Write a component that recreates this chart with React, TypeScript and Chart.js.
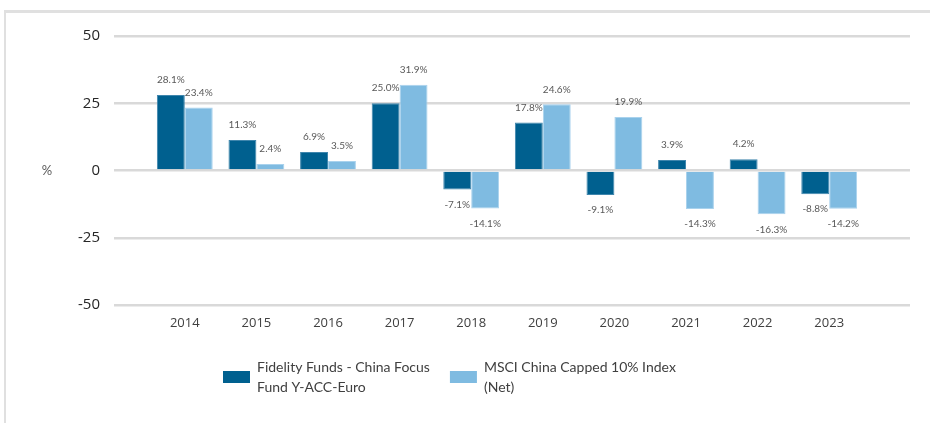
import React, { useEffect, useRef } from 'react';
import { Chart, registerables } from 'chart.js';

Chart.register(...registerables);

const categories = ['2014', '2015', '2016', '2017', '2018', '2019', '2020', '2021', '2022', '2023'];
const fundLegend = ['Fidelity Funds - China Focus', 'Fund Y-ACC-Euro'];
const indexLegend = ['MSCI China Capped 10% Index', '(Net)'];
const fundValues = [28.1, 11.3, 6.9, 25.0, -7.1, 17.8, -9.1, 3.9, 4.2, -8.8];
const indexValues = [23.4, 2.4, 3.5, 31.9, -14.1, 24.6, 19.9, -14.3, -16.3, -14.2];
const yTicks = [-50, -25, 0, 25, 50];
const yUnit = '%';

const fundColor = '#00608f';
const indexColor = '#7fbbe1';
const legendLines = [fundLegend, indexLegend];

const valueLabels = {
  id: 'valueLabels',
  afterDatasetsDraw(chart: any) {
    const ctx = chart.ctx;
    ctx.save();
    ctx.font = '10px Lato';
    ctx.fillStyle = '#595959';
    ctx.textAlign = 'center';
    ctx.textBaseline = 'middle';
    chart.data.datasets.forEach((ds: any, i: number) => {
      const meta = chart.getDatasetMeta(i);
      meta.data.forEach((bar: any, j: number) => {
        const v = ds.data[j] as number;
        const y = v >= 0 ? bar.y - 15 : bar.y + 15;
        ctx.fillText(v.toFixed(1) + '%', bar.x, y);
      });
    });
    ctx.restore();
  },
};

const customLegend = {
  id: 'customLegend',
  afterDraw(chart: any) {
    const ctx = chart.ctx;
    const area = chart.chartArea;
    ctx.save();
    // unit label
    ctx.font = '13px Lato';
    ctx.fillStyle = '#595959';
    ctx.textAlign = 'center';
    ctx.textBaseline = 'middle';
    ctx.fillText(yUnit, chart.scales.y.left + 47, (area.top + area.bottom) / 2);

    // legend
    ctx.font = '14px Lato';
    ctx.textAlign = 'left';
    const boxW = 27;
    const boxH = 12;
    const gapText = 7;
    const gapItem = 20;
    const lineH = 20;
    const cy = area.bottom + 72;
    let x = area.left + 74;
    chart.data.datasets.forEach((ds: any, i: number) => {
      const lines = legendLines[i];
      ctx.fillStyle = ds.backgroundColor;
      ctx.fillRect(x, cy - boxH / 2, boxW, boxH);
      ctx.fillStyle = '#404040';
      let maxW = 0;
      lines.forEach((line: string, k: number) => {
        const ly = cy + (k - (lines.length - 1) / 2) * lineH;
        ctx.fillText(line, x + boxW + gapText, ly);
        maxW = Math.max(maxW, ctx.measureText(line).width);
      });
      x += boxW + gapText + maxW + gapItem;
    });
    ctx.restore();
  },
};

export default function App() {
  const ref = useRef<HTMLCanvasElement>(null);

  useEffect(() => {
    document.body.style.margin = '0';
    const chart = new Chart(ref.current as HTMLCanvasElement, {
      type: 'bar',
      data: {
        labels: categories,
        datasets: [
          {
            label: fundLegend.join(' '),
            data: fundValues,
            backgroundColor: fundColor,
            borderColor: '#3f86ad',
            borderWidth: 1,
            categoryPercentage: 0.78,
            barPercentage: 1,
          },
          {
            label: indexLegend.join(' '),
            data: indexValues,
            backgroundColor: indexColor,
            borderColor: '#a9d2ed',
            borderWidth: 1,
            categoryPercentage: 0.78,
            barPercentage: 1,
          },
        ],
      },
      options: {
        responsive: false,
        animation: false,
        layout: { padding: { left: 0, right: 20, top: 36, bottom: 88 } },
        plugins: {
          legend: { display: false },
          tooltip: { enabled: false },
        },
        scales: {
          x: {
            offset: true,
            grid: { display: false, drawTicks: false },
            border: { display: false },
            ticks: {
              padding: 10,
              color: '#404040',
              font: { family: 'Open Sans', size: 13 },
              maxRotation: 0,
            },
            afterFit: (s: any) => {
              s.height = 30;
            },
          },
          y: {
            min: -50,
            max: 50,
            afterBuildTicks: (s: any) => {
              s.ticks = yTicks.map((v) => ({ value: v }));
            },
            ticks: {
              padding: 14,
              color: '#262626',
              font: { family: 'Open Sans', size: 15 },
            },
            grid: { color: '#d9d9d9', lineWidth: 2.5, tickLength: 35, drawTicks: true },
            border: { display: false },
            afterFit: (s: any) => {
              s.width = 149;
            },
          },
          y2: {
            position: 'right',
            min: -50,
            max: 50,
            afterBuildTicks: (s: any) => {
              s.ticks = yTicks.map((v) => ({ value: v }));
            },
            ticks: { display: false },
            grid: { drawOnChartArea: false, color: '#d9d9d9', lineWidth: 2.5, tickLength: 45, drawTicks: true },
            border: { display: false },
            afterFit: (s: any) => {
              s.width = 45;
            },
          },
        },
      },
      plugins: [valueLabels, customLegend],
    } as any);
    return () => chart.destroy();
  }, []);

  return (
    <div style={{ position: 'relative', width: 930, height: 423, overflow: 'hidden', background: '#fff' }}>
      <canvas ref={ref} width={930} height={423} style={{ display: 'block', width: 930, height: 423 }} />
      <div
        style={{
          position: 'absolute',
          left: 4,
          top: 10,
          right: 0,
          bottom: 0,
          borderTop: '3px solid #e0e0e0',
          borderLeft: '2px solid #e0e0e0',
          pointerEvents: 'none',
        }}
      />
    </div>
  );
}
